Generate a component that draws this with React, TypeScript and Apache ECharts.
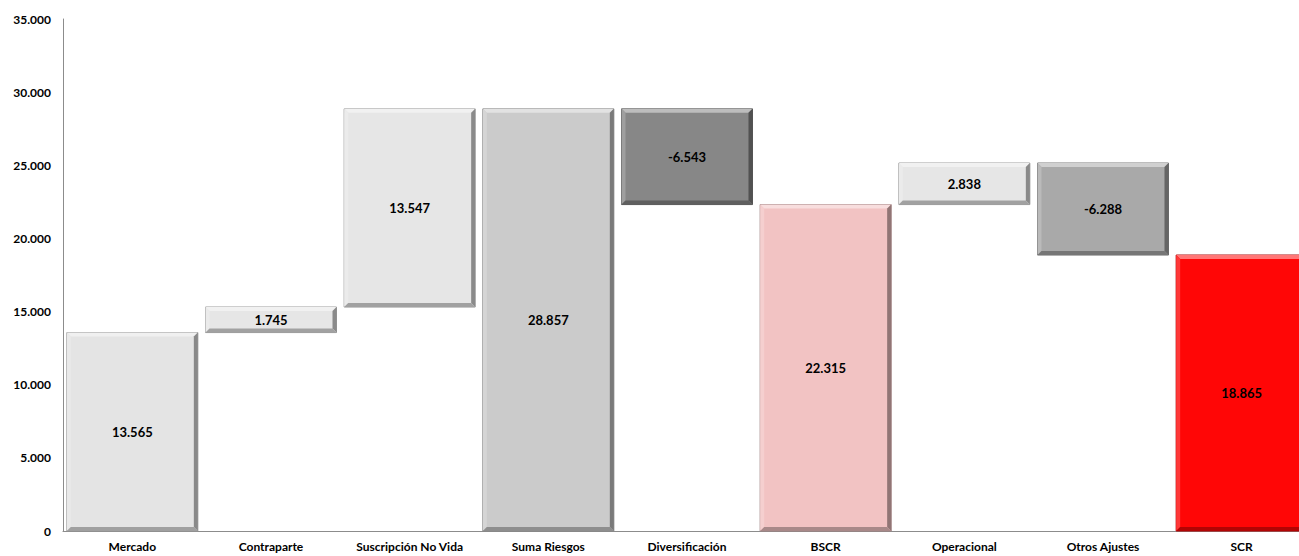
import React, { useEffect, useRef } from "react";
import * as echarts from "echarts";

const categories = [
  "Mercado",
  "Contraparte",
  "Suscripción No Vida",
  "Suma Riesgos",
  "Diversificación",
  "BSCR",
  "Operacional",
  "Otros Ajustes",
  "SCR",
];
const values = [13565, 1745, 13547, 28857, -6543, 22315, 2838, -6288, 18865];
const isTotal = [false, false, false, true, false, true, false, false, true];
const barColors = [
  "#e4e4e4",
  "#e6e6e6",
  "#e6e6e6",
  "#cbcbcb",
  "#878787",
  "#f2c3c3",
  "#e6e6e6",
  "#a9a9a9",
  "#ff0606",
];
const yTicks = { min: 0, max: 35000, interval: 5000 };

function fmt(v: number): string {
  const s = Math.abs(Math.round(v)).toString().replace(/\B(?=(\d{3})+(?!\d))/g, ".");
  return (v < 0 ? "-" : "") + s;
}

function mix(hex: string, target: number, t: number): string {
  const n = parseInt(hex.slice(1), 16);
  const r = (n >> 16) & 255, g = (n >> 8) & 255, b = n & 255;
  const m = (c: number) => Math.round(c + (target - c) * t);
  return `rgb(${m(r)},${m(g)},${m(b)})`;
}

export default function App() {
  const ref = useRef<HTMLDivElement>(null);
  useEffect(() => {
    if (!ref.current) return;
    const chart = echarts.init(ref.current, null, { renderer: "svg" });
    let running = 0;
    const data = values.map((v, i) => {
      let lo: number, hi: number;
      if (isTotal[i]) {
        lo = 0;
        hi = v;
        running = v;
      } else {
        lo = v >= 0 ? running : running + v;
        hi = v >= 0 ? running + v : running;
        running += v;
      }
      return [i, lo, hi, v];
    });
    const font = "Lato, 'Open Sans', sans-serif";
    chart.setOption({
      animation: false,
      grid: { left: 63, top: 19, width: 1248, height: 512, containLabel: false },
      xAxis: {
        type: "category",
        data: categories,
        axisTick: { show: false },
        axisLine: { show: true, lineStyle: { color: "#8c8c8c", width: 1 } },
        axisLabel: {
          color: "#000",
          fontWeight: "bold",
          fontSize: 12,
          fontFamily: font,
          margin: 9,
          interval: 0,
        },
      },
      yAxis: {
        type: "value",
        min: yTicks.min,
        max: yTicks.max,
        interval: yTicks.interval,
        splitLine: { show: false },
        axisTick: { show: false },
        axisLine: { show: true, lineStyle: { color: "#8c8c8c", width: 1 } },
        axisLabel: {
          color: "#000",
          fontWeight: "bold",
          fontSize: 12,
          fontFamily: font,
          margin: 12,
          formatter: (v: number) => fmt(v),
        },
      },
      series: [
        {
          type: "custom",
          encode: { x: 0, y: [1, 2] },
          data,
          renderItem: (params: any, api: any) => {
            const i = api.value(0);
            const lo = api.value(1);
            const hi = api.value(2);
            const v = api.value(3);
            const pTop = api.coord([i, hi]);
            const pBot = api.coord([i, lo]);
            const w = 131;
            const x = pTop[0] - w / 2;
            const y = pTop[1];
            const h = pBot[1] - pTop[1];
            const c = barColors[i];
            const b = 4;
            return {
              type: "group",
              children: [
                {
                  type: "rect",
                  shape: { x, y, width: w, height: h },
                  style: { fill: c, stroke: mix(c, 0, 0.35), lineWidth: 1 },
                },
                {
                  type: "polygon",
                  shape: { points: [[x, y], [x + w, y], [x + w - b, y + b], [x + b, y + b]] },
                  style: { fill: mix(c, 255, 0.45) },
                },
                {
                  type: "polygon",
                  shape: { points: [[x, y], [x + b, y + b], [x + b, y + h - b], [x, y + h]] },
                  style: { fill: mix(c, 255, 0.2) },
                },
                {
                  type: "polygon",
                  shape: { points: [[x + w, y], [x + w, y + h], [x + w - b, y + h - b], [x + w - b, y + b]] },
                  style: { fill: mix(c, 0, 0.4) },
                },
                {
                  type: "polygon",
                  shape: { points: [[x, y + h], [x + w, y + h], [x + w - b, y + h - b], [x + b, y + h - b]] },
                  style: { fill: mix(c, 0, 0.3) },
                },
                {
                  type: "text",
                  style: {
                    text: fmt(v),
                    x: pTop[0],
                    y: y + h / 2,
                    align: "center",
                    verticalAlign: "middle",
                    font: `bold 13px ${font}`,
                    fill: "#000",
                  },
                },
              ],
            };
          },
        },
      ],
    });
    return () => chart.dispose();
  }, []);
  return (
    <div
      style={{
        position: "absolute",
        left: 0,
        top: 0,
        width: 1299,
        height: 556,
        overflow: "hidden",
        background: "#fff",
      }}
    >
      <div ref={ref} style={{ width: 1320, height: 556 }} />
    </div>
  );
}
